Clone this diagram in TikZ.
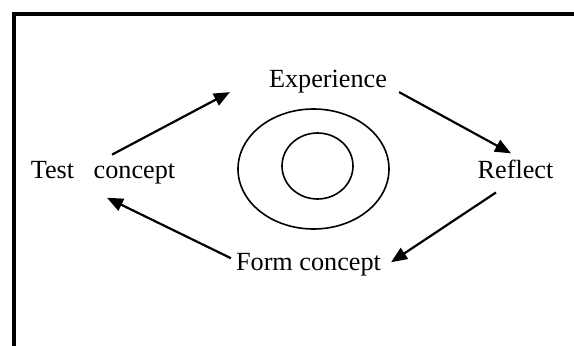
\documentclass[tikz,border=0pt]{standalone}
\usepackage{fontspec}
\setmainfont{Liberation Serif}
\usetikzlibrary{arrows.meta, calc}

\begin{document}
\begin{tikzpicture}[x=1pt, y=-1pt, >={Triangle[length=16pt, width=13pt]}, every node/.style={font=\fontsize{26.2}{30}\selectfont, inner sep=0pt, anchor=base}, ring/.style={line width=1.6pt}, flow/.style={->, line width=2.2pt}]
  \useasboundingbox (0,0) rectangle (574,346);
  \draw[line width=3.7pt] (14.2,346) -- (14.2,14) -- (574,14);
  \node (experience) at (328,87) {Experience};
  \node (reflect) at (515.5,178) {Reflect};
  \node (formconcept) at (308.5,270) {Form concept};
  \node (testconcept) at (103,178) {Test~~~concept};
  \draw[ring] (313.5,169) ellipse [x radius=75.5, y radius=60];
  \draw[ring] (317.5,166) ellipse [x radius=35.5, y radius=33];
  \draw[flow] ($(testconcept.north)+(9,-6)$) -- ($(experience.west)+(-39,11)$);
  \draw[flow] ($(experience.east)+(12,11)$) -- ($(reflect.north)+(-4.5,-6)$);
  \draw[flow] ($(reflect.south)+(-19.5,14)$) -- ($(formconcept.east)+(10,-2)$);
  \draw[flow] ($(formconcept.west)+(-5,-6)$) -- ($(testconcept.south)+(4,14)$);
\end{tikzpicture}
\end{document}
